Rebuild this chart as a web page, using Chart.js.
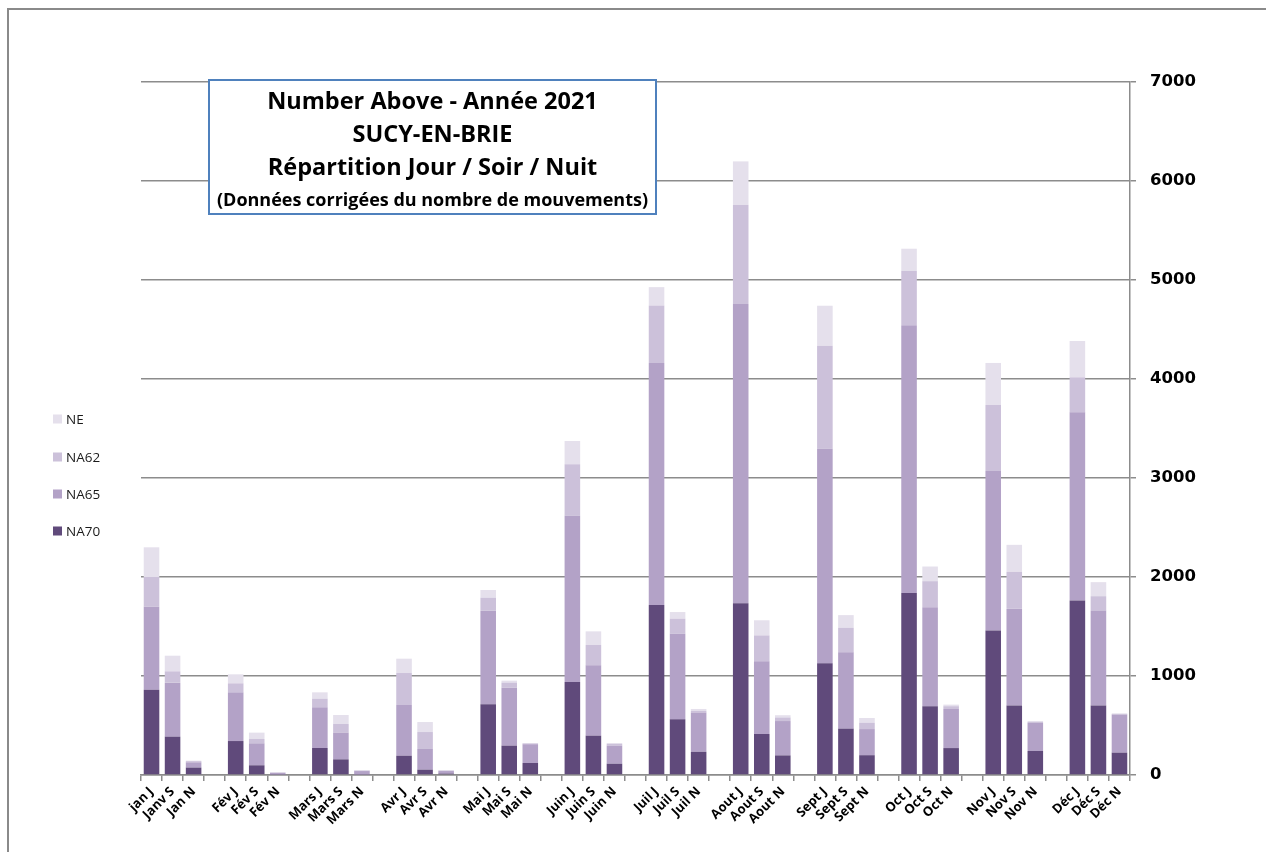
<!DOCTYPE html>
<html lang="fr">
<head>
<meta charset="utf-8">
<title>Number Above - Année 2021 - SUCY-EN-BRIE</title>
<script src="https://cdn.jsdelivr.net/npm/chart.js@4/dist/chart.umd.min.js"></script>
<style>
  html, body { margin: 0; padding: 0; background: #ffffff; }
  #wrap { position: relative; width: 1266px; height: 852px; overflow: hidden; }
  canvas { position: absolute; left: 0; top: 0; }
</style>
</head>
<body>
<div id="wrap"><canvas id="chart" width="1266" height="852"></canvas></div>
<script>
// Catégories : Jour / Soir / Nuit par mois, avec un emplacement vide entre les mois
const categories = [
  "jan J", "Janv S", "Jan N", "",
  "Fév J", "Fév S", "Fév N", "",
  "Mars J", "Mars S", "Mars N", "",
  "Avr J", "Avr S", "Avr N", "",
  "Mai J", "Mai S", "Mai N", "",
  "Juin J", "Juin S", "Juin N", "",
  "Juil J", "Juil S", "Juil N", "",
  "Aout J", "Aout S", "Aout N", "",
  "Sept J", "Sept S", "Sept N", "",
  "Oct J", "Oct S", "Oct N", "",
  "Nov J", "Nov S", "Nov N", "",
  "Déc J", "Déc S", "Déc N"
];

// Segments empilés (du bas vers le haut) : NA70, NA65, NA62, NE
const na70 = [
  860, 387, 75, null,
  343, 98, 5, null,
  273, 158, 5, null,
  195, 54, 15, null,
  714, 296, 121, null,
  939, 397, 114, null,
  1716, 562, 234, null,
  1734, 414, 198, null,
  1130, 468, 200, null,
  1839, 695, 272, null,
  1459, 701, 243, null,
  1762, 701, 226
];
const na65 = [
  840, 546, 53, null,
  492, 222, 15, null,
  411, 270, 35, null,
  512, 209, 25, null,
  946, 586, 190, null,
  1680, 711, 182, null,
  2446, 865, 397, null,
  3023, 735, 347, null,
  2166, 771, 264, null,
  2705, 1000, 395, null,
  1611, 977, 283, null,
  1901, 957, 384
];
const na62 = [
  300, 114, 12, null,
  91, 44, 5, null,
  87, 87, 5, null,
  323, 171, 5, null,
  131, 51, 8, null,
  519, 205, 17, null,
  581, 152, 18, null,
  1004, 261, 36, null,
  1040, 248, 64, null,
  548, 263, 28, null,
  667, 374, 10, null,
  354, 148, 7
];
const ne = [
  300, 158, 5, null,
  91, 64, 5, null,
  64, 91, 5, null,
  145, 101, 5, null,
  78, 20, 4, null,
  236, 138, 10, null,
  185, 67, 18, null,
  437, 153, 23, null,
  404, 128, 48, null,
  224, 148, 16, null,
  425, 273, 10, null,
  367, 142, 6
];

// Graduations de l'axe des valeurs
const yTicks = [0, 1000, 2000, 3000, 4000, 5000, 6000, 7000];

const titleLines = [
  "Number Above - Année 2021",
  "SUCY-EN-BRIE",
  "Répartition Jour / Soir / Nuit",
  "(Données corrigées du nombre de mouvements)"
];

const seriesNames = ["NA70", "NA65", "NA62", "NE"];
const seriesColors = ["#604A7B", "#B3A2C7", "#CCC1DA", "#E5E0EC"];
const seriesData = [na70, na65, na62, ne];

const datasets = seriesNames.map((name, i) => ({
  label: name,
  data: seriesData[i],
  backgroundColor: seriesColors[i],
  borderWidth: 0,
  barPercentage: 0.74,
  categoryPercentage: 1.0
}));

// Cadre extérieur de la zone de graphique
const framePlugin = {
  id: 'frame',
  beforeDraw(chart) {
    const c = chart.ctx;
    c.save();
    c.fillStyle = '#ffffff';
    c.fillRect(0, 0, chart.width, chart.height);
    c.strokeStyle = '#8a8a8a';
    c.lineWidth = 2;
    c.beginPath();
    c.moveTo(8, chart.height);
    c.lineTo(8, 9);
    c.lineTo(chart.width, 9);
    c.stroke();
    c.restore();
  }
};

// Encadré de titre et légende verticale
const overlayPlugin = {
  id: 'overlay',
  afterDraw(chart) {
    const c = chart.ctx;
    c.save();
    // encadré du titre
    const bx = 209, by = 80, bw = 447, bh = 134;
    c.fillStyle = '#ffffff';
    c.fillRect(bx, by, bw, bh);
    c.strokeStyle = '#4F81BD';
    c.lineWidth = 2;
    c.strokeRect(bx, by, bw, bh);
    c.fillStyle = '#000000';
    c.textAlign = 'center';
    c.textBaseline = 'middle';
    const cx = bx + bw / 2;
    c.font = 'bold 23.5px "Open Sans"';
    c.fillText(titleLines[0], cx, 102);
    c.fillText(titleLines[1], cx, 135);
    c.fillText(titleLines[2], cx, 168);
    c.font = 'bold 18px "Open Sans"';
    c.fillText(titleLines[3], cx, 201);

    // légende (ordre inverse de l'empilement)
    const ys = [419, 457, 494, 531];
    c.textAlign = 'left';
    c.font = '13.5px "Open Sans"';
    for (let k = 0; k < 4; k++) {
      const ds = chart.data.datasets[3 - k];
      c.fillStyle = ds.backgroundColor;
      c.fillRect(53, ys[k] - 4.5, 9, 9);
      c.fillStyle = '#1a1a1a';
      c.fillText(ds.label, 66, ys[k] + 1);
    }
    c.restore();
  }
};

new Chart(document.getElementById('chart'), {
  type: 'bar',
  data: { labels: categories, datasets },
  plugins: [framePlugin, overlayPlugin],
  options: {
    responsive: false,
    animation: false,
    devicePixelRatio: 1,
    layout: { padding: { left: 141, top: 82, right: 0, bottom: 0 } },
    plugins: {
      legend: { display: false },
      title: { display: false },
      tooltip: { enabled: false }
    },
    scales: {
      x: {
        stacked: true,
        grid: {
          display: true,
          drawOnChartArea: false,
          drawTicks: true,
          tickLength: 6,
          color: '#8c8c8c',
          lineWidth: 1.5,
          offset: true
        },
        border: { display: true, color: '#8c8c8c', width: 1.5 },
        ticks: {
          autoSkip: false,
          maxRotation: 45,
          minRotation: 45,
          padding: 3,
          color: '#000000',
          font: { family: 'Open Sans', weight: 'bold', size: 13 }
        },
        afterFit(scale) { scale.height = 77; }
      },
      y: {
        stacked: true,
        position: 'right',
        min: 0,
        max: 7000,
        afterBuildTicks(scale) { scale.ticks = yTicks.map(v => ({ value: v })); },
        ticks: {
          padding: 14,
          color: '#000000',
          font: { family: 'DejaVu Sans', weight: 'bold', size: 16.5 },
          callback: (v) => String(v)
        },
        grid: { color: '#8c8c8c', lineWidth: 1.5, tickLength: 6 },
        border: { display: true, color: '#8c8c8c', width: 1.5 },
        afterFit(scale) { scale.width = 136; }
      }
    }
  }
});
</script>
</body>
</html>
